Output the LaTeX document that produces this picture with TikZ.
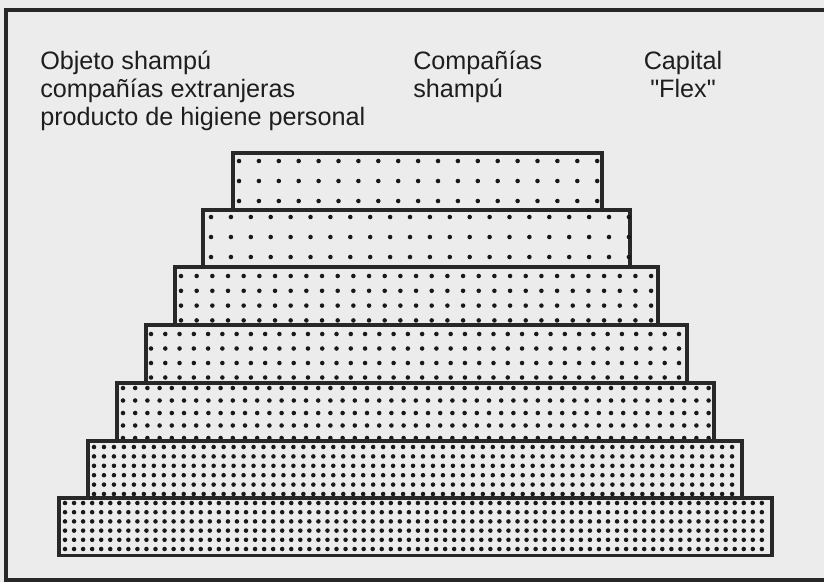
\documentclass[tikz,border=0pt]{standalone}
\usepackage{fontspec}
\setmainfont{Liberation Sans}
\begin{document}
\begin{tikzpicture}[x=0.75pt,y=0.75pt,yscale=-1,xscale=1,
  lbl/.style={inner sep=0pt,text={rgb,255:red,30;green,30;blue,30},font=\fontsize{18.9}{21}\selectfont},
  stepbox/.style={draw={rgb,255:red,40;green,40;blue,40},line width=2.6pt}]
\useasboundingbox (0,0) rectangle (824,582);
%paper
\fill [color={rgb, 255:red, 236; green, 236; blue, 236 }] (0,0) rectangle (824,582);
%Shape: Frame (open on the right)
\draw [stepbox] (824,10) -- (6,10) -- (6,580) -- (824,580);

%Shape: Steps with dots (left/top/right/x0/dx/nx/y0/dy/ny)
\foreach \l/\t/\r/\xo/\dx/\nx/\yo/\dy/\ny in {
  233/153/602/239/19.9/18/161/20/2,
  203/210/630/211/19.9/21/217/20/2,
  175/267/658/181/15.67/30/276/14.8/3,
  146/325/687/151/14.27/37/334/14.5/3,
  117/383/714/123/12.2/48/388/12.5/4,
  88/441/742/94/9.97/64/447/9.4/5,
  59/498/772/65/9.05/77/503/9.2/5}{
  \draw [stepbox] (\l,\t) rectangle (\r,\t+57.5);
  \foreach \i in {0,...,\nx}
    \foreach \j in {0,...,\ny}
      \fill [color={rgb, 255:red, 25; green, 25; blue, 25 }] (\xo+\i*\dx,\yo+\j*\dy) circle (1.7pt);
}

% Text Node
\node (objeto) [lbl,anchor=base west,align=left] at (40,125) {Objeto shampú\\compañías extranjeras\\producto de higiene personal};
% Text Node
\node (companias) [lbl,anchor=base west,align=left] at (413,97) {Compañías\\shampú};
% Text Node
\node (capital) [lbl,anchor=base,align=center] at (683,97) {Capital\\\textquotedbl Flex\textquotedbl};

\end{tikzpicture}
\end{document}
